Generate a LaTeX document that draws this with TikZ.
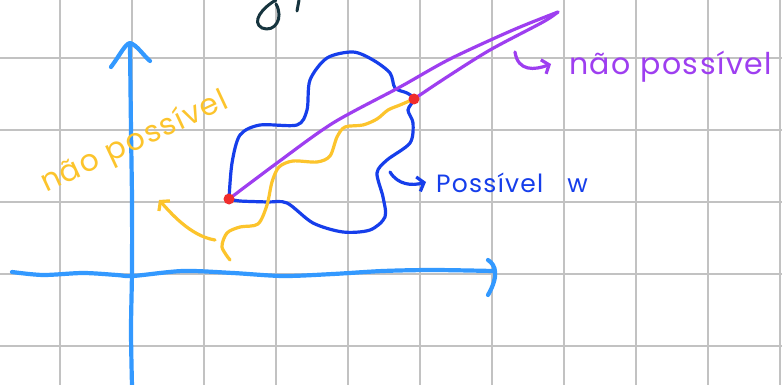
\documentclass[tikz,border=0pt]{standalone}
\usepackage{fontspec}
\setmainfont{Poppins}
\newfontfamily\handfont[LetterSpace=5]{Poppins}
\usetikzlibrary{arrows.meta}

\definecolor{axisblue}{RGB}{51,153,255}
\definecolor{setblue}{RGB}{22,62,235}
\definecolor{penyellow}{RGB}{252,196,44}
\definecolor{penpurple}{RGB}{158,62,240}
\definecolor{dotred}{RGB}{240,45,45}
\definecolor{inkdark}{RGB}{22,52,62}

\begin{document}
\begin{tikzpicture}[
  x=1pt, y=-1pt,
  line cap=round, line join=round,
  gridline/.style={draw=black!24, line width=2.2pt},
  axis/.style={draw=axisblue, line width=4.2pt},
  pen/.style={line width=3.2pt},
  barb/.style={-{Straight Barb[length=6pt, width=15pt]}},
  lbl/.style={inner sep=0pt, font=\handfont\fontsize{30}{30}\selectfont},
  dot/.style={fill=dotred}]

  \useasboundingbox (0,0) rectangle (782,385);

  % paper
  \fill[white] (0,0) rectangle (782,385);
  \foreach \gx in {60,132,...,780}
    \draw[gridline] (\gx,0) -- (\gx,385);
  \foreach \gy in {58,130,...,346}
    \draw[gridline] (0,\gy) -- (782,\gy);

  % cut-off ink at the top
  \draw[inkdark, line width=3pt] (276,0) .. controls (262,8) and (251,22) .. (262,28)
    .. controls (275,33) and (284,18) .. (276,4);
  \draw[inkdark, line width=3pt] (299,0) -- (297,11);

  % axes
  \draw[axis] plot[smooth] coordinates {(132,386) (131,330) (132,270) (132,200) (131,130) (130,46)};
  \draw[axis] (111,67) .. controls (120,55) and (125,44) .. (130,43)
    .. controls (137,45) and (143,55) .. (150,61);
  \draw[axis] plot[smooth] coordinates {(12,272) (43,275) (83,273) (117,275) (133,276) (183,271)
    (233,273) (283,276) (333,274) (383,271) (433,270) (493,271)};
  \draw[axis] (488,260) .. controls (496,265) and (499,276) .. (488,295);

  % end points
  \coordinate (A) at (229,199);
  \coordinate (B) at (414,99);
  \coordinate (T) at (558,12);

  % region
  \draw[pen, setblue] plot[smooth] coordinates {(A) (232,163) (240,135) (260,125) (297,125)
    (307,110) (310,80) (327,58) (353,52) (373,60) (390,73) (395,88) (407,93) (B)
    (408,110) (413,123) (410,143) (387,160) (377,173) (383,197) (385,217) (370,230)
    (343,232) (313,223) (287,203) (267,202) (240,201) (A)};

  % yellow path
  \draw[pen, penyellow] plot[smooth] coordinates {(230,260) (222,247) (227,233) (240,227)
    (258,224) (267,205) (272,182) (279,167) (293,161) (317,162) (330,156) (337,137)
    (345,127) (363,125) (377,119) (388,110) (400,105) (B)};
  \coordinate (tailY) at (215,240);
  \draw[pen, penyellow, barb] (tailY) .. controls (190,236) and (170,212) .. (159,200);

  % purple path
  \draw[pen, penpurple] plot[smooth] coordinates {(A) (277,163) (333,123) (400,87) (450,59)
    (513,30) (T)};
  \draw[pen, penpurple] plot[smooth] coordinates {(T) (543,22) (490,50) (447,77) (B)};

  \fill[dot] (A) circle (5.5);
  \fill[dot] (B) circle (5.5);

  % labels
  \node[lbl, text=penpurple, anchor=base west] (noP) at (569,75) {não possível};
  \node[lbl, text=setblue, anchor=base west, font=\handfont\fontsize{25}{25}\selectfont]
    (posW) at (436,193) {Possível\hspace{24pt}w};
  \node[lbl, text=penyellow, rotate=25, anchor=base west] (noY) at (46,193) {não possível};

  \coordinate (hkP) at (515,52);
  \draw[pen, penpurple, barb] (hkP) .. controls (518,72) and (535,70)
    .. ([xshift=-18pt, yshift=11pt]noP.base west);
  \coordinate (hkW) at (390,172);
  \draw[pen, setblue, barb] (hkW) .. controls (398,185) and (412,186)
    .. ([xshift=-10pt, yshift=11pt]posW.base west);
\end{tikzpicture}
\end{document}
